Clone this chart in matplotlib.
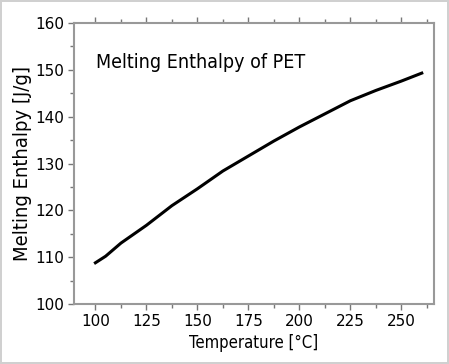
import matplotlib.pyplot as plt
from matplotlib.ticker import MultipleLocator

# values
temperature = [100, 105, 112.5, 125, 137.5, 150, 162.5, 175, 187.5, 200, 212.5, 225, 237.5, 250, 260]
enthalpy = [108.8, 110.2, 113.0, 116.8, 121.0, 124.6, 128.4, 131.6, 134.8, 137.8, 140.6, 143.4, 145.6, 147.6, 149.3]

plt.rcParams['font.family'] = ['DejaVu Sans']
plt.rcParams['font.stretch'] = 'condensed'

fig = plt.figure(figsize=(4.49, 3.64), dpi=100)
fig.patch.set_edgecolor('#d0d0d0')
fig.patch.set_linewidth(1.5)
ax = fig.add_axes([74 / 449, 1 - 304 / 364, 360 / 449, 281 / 364])

ax.plot(temperature, enthalpy, color='black', linewidth=2.2)

ax.set_xlim(89.5, 266)
ax.set_ylim(100, 160)
ax.xaxis.set_major_locator(MultipleLocator(25))
ax.xaxis.set_minor_locator(MultipleLocator(12.5))
ax.yaxis.set_major_locator(MultipleLocator(10))
ax.yaxis.set_minor_locator(MultipleLocator(5))
ax.tick_params(which='both', direction='out', colors='#777777', labelcolor='black',
               top=True, right=False)
ax.tick_params(which='major', length=4, width=1, pad=3)
ax.tick_params(which='minor', length=3, width=1)
for lbl in ax.get_xticklabels() + ax.get_yticklabels():
    lbl.set_fontsize(11)
    lbl.set_fontstretch('normal')
for side in ax.spines.values():
    side.set_color('#999999')
    side.set_linewidth(1.5)

ax.set_xlabel('Temperature [°C]', fontsize=12, labelpad=4)
ax.set_ylabel('Melting Enthalpy [J/g]', fontsize=14.5, labelpad=2)
ax.text(0.06, 0.86, 'Melting Enthalpy of PET', transform=ax.transAxes,
        fontsize=14, va='center', ha='left')

fig.savefig('out.png', dpi=100, edgecolor=fig.get_edgecolor())
